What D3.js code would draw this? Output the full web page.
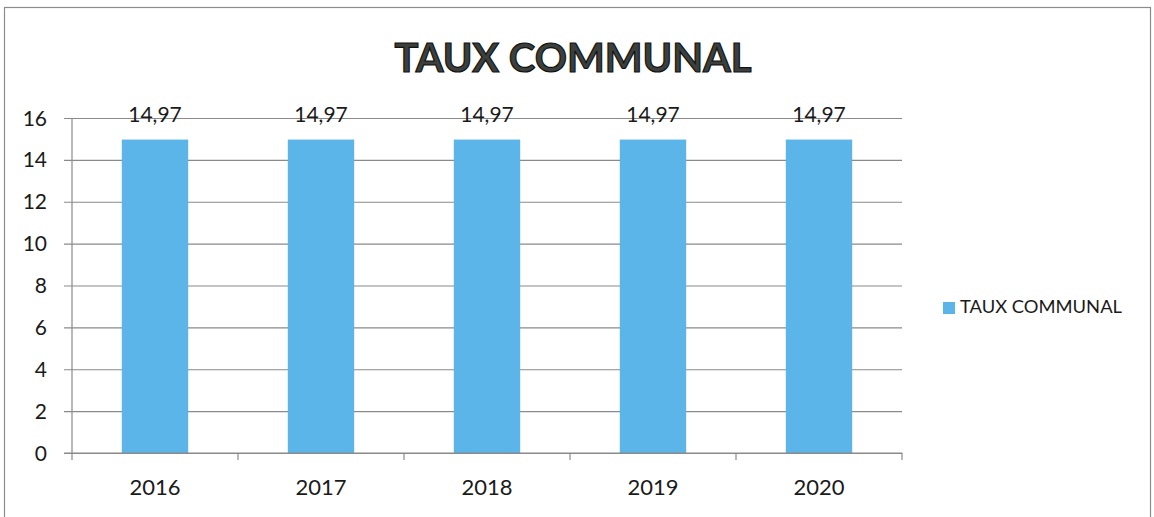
<!DOCTYPE html>
<html>
<head>
<meta charset="utf-8">
<script src="https://cdn.jsdelivr.net/npm/d3@7"></script>
<style>
  html, body { margin: 0; padding: 0; background: #fff; }
  svg { display: block; }
  text { font-family: Lato, "Open Sans", sans-serif; fill: #1a1a1a; }
</style>
</head>
<body>
<svg id="chart" width="1154" height="517"></svg>
<script>
// Taux communal par année
const years = ["2016", "2017", "2018", "2019", "2020"];
const rates = [14.97, 14.97, 14.97, 14.97, 14.97];
const yTicks = [0, 2, 4, 6, 8, 10, 12, 14, 16];
const seriesName = "TAUX COMMUNAL";
const chartTitle = "TAUX COMMUNAL";

const W = 1154, H = 517;
const margin = { left: 72, right: 252, top: 118, bottom: 64 };
const svg = d3.select("#chart");
const barColor = "#5bb5e9";
const gridColor = "#8a8a8a";

// outer frame
svg.append("rect")
  .attr("x", 4.5).attr("y", 7.5)
  .attr("width", 1146).attr("height", 520)
  .attr("fill", "none").attr("stroke", "#8c8c8c").attr("stroke-width", 1.2);

const x = d3.scaleBand()
  .domain(years)
  .range([margin.left, W - margin.right])
  .paddingInner(0.6).paddingOuter(0.3);

const y = d3.scaleLinear()
  .domain([0, 16])
  .range([H - margin.bottom, margin.top]);

// horizontal gridlines with left tick stubs
svg.append("g")
  .attr("transform", `translate(${margin.left},0)`)
  .call(d3.axisLeft(y).tickValues(yTicks).tickSize(-(W - margin.right - margin.left)).tickPadding(0).tickFormat(""))
  .call(g => g.select(".domain").remove())
  .call(g => g.selectAll(".tick line").attr("stroke", gridColor).attr("stroke-width", 1.2).attr("x1", -8));

// y tick labels
svg.append("g").selectAll("text")
  .data(yTicks)
  .join("text")
  .attr("x", 47)
  .attr("y", d => y(d))
  .attr("dy", "0.36em")
  .attr("text-anchor", "end")
  .attr("font-size", 21)
  .text(d => d);

// y axis line
svg.append("line")
  .attr("x1", margin.left).attr("x2", margin.left)
  .attr("y1", y(16)).attr("y2", y(0))
  .attr("stroke", gridColor).attr("stroke-width", 1.2);

// bars
svg.append("g").selectAll("rect")
  .data(years.map((k, i) => ({ k, v: rates[i] })))
  .join("rect")
  .attr("x", d => x(d.k))
  .attr("y", d => y(d.v))
  .attr("width", x.bandwidth())
  .attr("height", d => y(0) - y(d.v))
  .attr("fill", barColor);

// value labels
svg.append("g").selectAll("text")
  .data(years.map((k, i) => ({ k, v: rates[i] })))
  .join("text")
  .attr("x", d => x(d.k) + x.bandwidth() / 2)
  .attr("y", d => y(d.v) - 18)
  .attr("text-anchor", "middle")
  .attr("font-size", 21)
  .text(d => d3.format(".2f")(d.v).replace(".", ","));

// x axis with category boundary ticks
const step = x.step();
const bounds = d3.range(years.length + 1).map(i => margin.left + i * step);
svg.append("line")
  .attr("x1", margin.left - 8).attr("x2", W - margin.right)
  .attr("y1", y(0)).attr("y2", y(0))
  .attr("stroke", gridColor).attr("stroke-width", 1.2);
svg.append("g").selectAll("line")
  .data(bounds)
  .join("line")
  .attr("x1", d => d).attr("x2", d => d)
  .attr("y1", y(0)).attr("y2", y(0) + 7)
  .attr("stroke", gridColor).attr("stroke-width", 1.2);

svg.append("g").selectAll("text")
  .data(years)
  .join("text")
  .attr("x", d => x(d) + x.bandwidth() / 2)
  .attr("y", y(0) + 42)
  .attr("text-anchor", "middle")
  .attr("font-size", 22)
  .text(d => d);

// title
svg.append("text")
  .attr("x", 573)
  .attr("y", 72)
  .attr("text-anchor", "middle")
  .attr("font-size", 41)
  .attr("font-weight", 700)
  .attr("textLength", 357)
  .attr("lengthAdjust", "spacingAndGlyphs")
  .style("fill", "#3b403c")
  .style("stroke", "#111")
  .style("stroke-width", 1.2)
  .text(chartTitle);

// legend
svg.append("rect")
  .attr("x", 943).attr("y", 302)
  .attr("width", 12).attr("height", 12)
  .attr("fill", barColor);
svg.append("text")
  .attr("x", 960).attr("y", 313)
  .attr("font-size", 17)
  .attr("textLength", 162)
  .attr("lengthAdjust", "spacingAndGlyphs")
  .text(seriesName);
</script>
</body>
</html>
